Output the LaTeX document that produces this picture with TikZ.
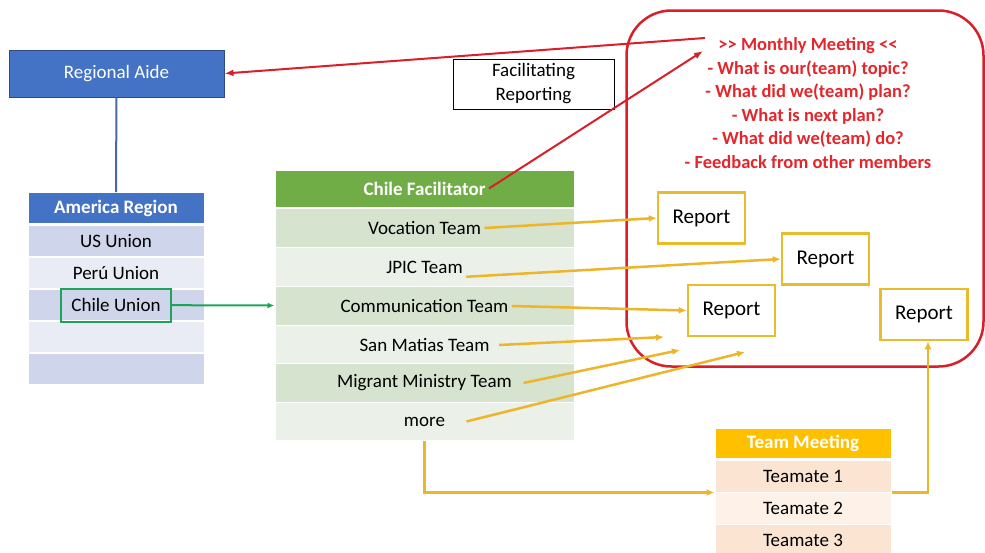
\documentclass[tikz,border=0pt]{standalone}
\usepackage{fontspec}
\setmainfont{Carlito}
\usetikzlibrary{arrows.meta}
\definecolor{aideblue}{HTML}{4472C4}
\definecolor{aideline}{HTML}{2F4B80}
\definecolor{linkblue}{HTML}{4A6A9A}
\definecolor{amA}{HTML}{CFD5EA}
\definecolor{amB}{HTML}{E9EBF5}
\definecolor{facgreen}{HTML}{70AD47}
\definecolor{facA}{HTML}{D5E3CF}
\definecolor{facB}{HTML}{EBF1E9}
\definecolor{unigreen}{HTML}{1FA35A}
\definecolor{tmgold}{HTML}{FFC000}
\definecolor{tmA}{HTML}{FCE4D2}
\definecolor{tmB}{HTML}{FDF1E8}
\definecolor{repgold}{HTML}{E8BC2C}
\definecolor{arrowgold}{HTML}{EDB52A}
\definecolor{redline}{HTML}{D81F2A}
\definecolor{redtext}{HTML}{E3262B}
\begin{document}
\begin{tikzpicture}[x=1pt,y=-1pt,
  every node/.style={font=\fontsize{19}{24}\selectfont},
  amrow/.style={minimum width=176pt,minimum height=31pt,draw=white,line width=1pt},
  facrow/.style={minimum width=299pt,minimum height=38.5pt,draw=white,line width=1pt},
  tmrow/.style={minimum width=176pt,minimum height=32pt,draw=white,line width=1pt},
  head/.style={text=white,font=\fontsize{19}{24}\selectfont\bfseries},
  report/.style={draw=repgold,line width=2.5pt,fill=white,minimum width=87pt,minimum height=51pt,font=\fontsize{21}{24}\selectfont},
  yarrow/.style={draw=arrowgold,line width=2.5pt,-{Latex[length=8pt,width=7pt]}},
  rarrow/.style={draw=redline,line width=2pt,-{Latex[length=9pt,width=7pt]}}]
\useasboundingbox (0,0) rectangle (985,552);
% monthly meeting frame
\node[draw=redline,line width=2.5pt,rounded corners=45pt,minimum width=357pt,minimum height=356pt] (monthly) at (805,188.5) {};
\node[text=redtext,align=center,font=\fontsize{18.5}{23.5}\selectfont\bfseries] (agenda) at (808,103)
  {>{}> Monthly Meeting <{}<\\- What is our(team) topic?\\- What did we(team) plan?\\- What is next plan?\\- What did we(team) do?\\- Feedback from other members};
\coordinate (mmL) at (705,38);
\coordinate (mmH) at (703,51);
\node[draw=black,line width=0.8pt,fill=white,minimum width=161pt,minimum height=50pt,align=center,font=\fontsize{19}{24}\selectfont] (facrep) at (533.5,84) {Facilitating\\Reporting};
% region side
\node[fill=aideblue,draw=aideline,line width=1pt,minimum width=215pt,minimum height=47pt,text=white] (aide) at (116.5,73.5) {Regional Aide};
\node[amrow,fill=aideblue] (am0) at (116,208) {};
\node[head] at (am0) {America Region};
\node[amrow,fill=amA] (am1) at (116,241) {US Union};
\node[amrow,fill=amB] (am2) at (116,273) {Perú Union};
\node[amrow,fill=amA] (am3) at (116,305) {};
\node[amrow,fill=amB] (am4) at (116,337) {};
\node[amrow,fill=amA] (am5) at (116,369) {};
\node[draw=unigreen,line width=2pt,minimum width=110pt,minimum height=33pt] (chile) at (116,305) {Chile Union};
% facilitator table
\node[facrow,fill=facgreen,minimum height=37pt] (fac0) at (424.5,188.5) {};
\node[head] (facil) at (fac0) {Chile Facilitator};
\node[facrow,fill=facA] (fac1) at (424.5,228) {};
\node[facrow,fill=facB] (fac2) at (424.5,267) {};
\node[facrow,fill=facA] (fac3) at (424.5,306) {};
\node[facrow,fill=facB] (fac4) at (424.5,345) {};
\node[facrow,fill=facA] (fac5) at (424.5,383) {};
\node[facrow,fill=facB] (fac6) at (424.5,421.5) {};
\node (vocation) at (fac1) {Vocation Team};
\node (jpic) at (fac2) {JPIC Team};
\node (comm) at (fac3) {Communication Team};
\node (matias) at (fac4) {San Matias Team};
\node (migrant) at (fac5) {Migrant Ministry Team};
\node (more) at (fac6) {more};
% team meeting table
\node[tmrow,fill=tmgold,minimum height=30pt] (tm0) at (803,443) {};
\node[head] at (tm0) {Team Meeting};
\node[tmrow,fill=tmA] (tm1) at (803,476) {Teamate 1};
\node[tmrow,fill=tmB] (tm2) at (803,508) {Teamate 2};
\node[tmrow,fill=tmA] (tm3) at (803,540) {Teamate 3};
% reports
\node[report] (rep1) at (701.5,218) {Report};
\node[report] (rep2) at (825.5,259) {Report};
\node[report] (rep3) at (731.5,310.5) {Report};
\node[report] (rep4) at (924,314.5) {Report};
\coordinate (free1) at (664,337);
\coordinate (free2) at (680,350);
\coordinate (free3) at (745,352);
%edges
\draw[draw=linkblue,line width=2pt] (aide) -- (am0);
\draw[draw=unigreen,line width=2pt,-{Latex[length=7pt,width=6pt]}] (chile) -- (fac3);
\draw[rarrow] (mmL) -- (aide.east);
\draw[rarrow] (facil.east) -- (mmH);
\draw[yarrow] (vocation.east) -- (rep1.west);
\draw[yarrow] (jpic.south east) -- (rep2.west);
\draw[yarrow] (comm.east) -- (rep3.west);
\draw[yarrow] ([xshift=6pt]matias.east) -- (free1);
\draw[yarrow] ([xshift=8pt]migrant.east) -- (free2);
\draw[yarrow] ([xshift=18pt]more.east) -- (free3);
\draw[yarrow] (fac6.south) |- (tm1.south west);
\draw[yarrow] (tm1.south east) -| ([xshift=4pt]rep4.south);
\end{tikzpicture}
\end{document}
